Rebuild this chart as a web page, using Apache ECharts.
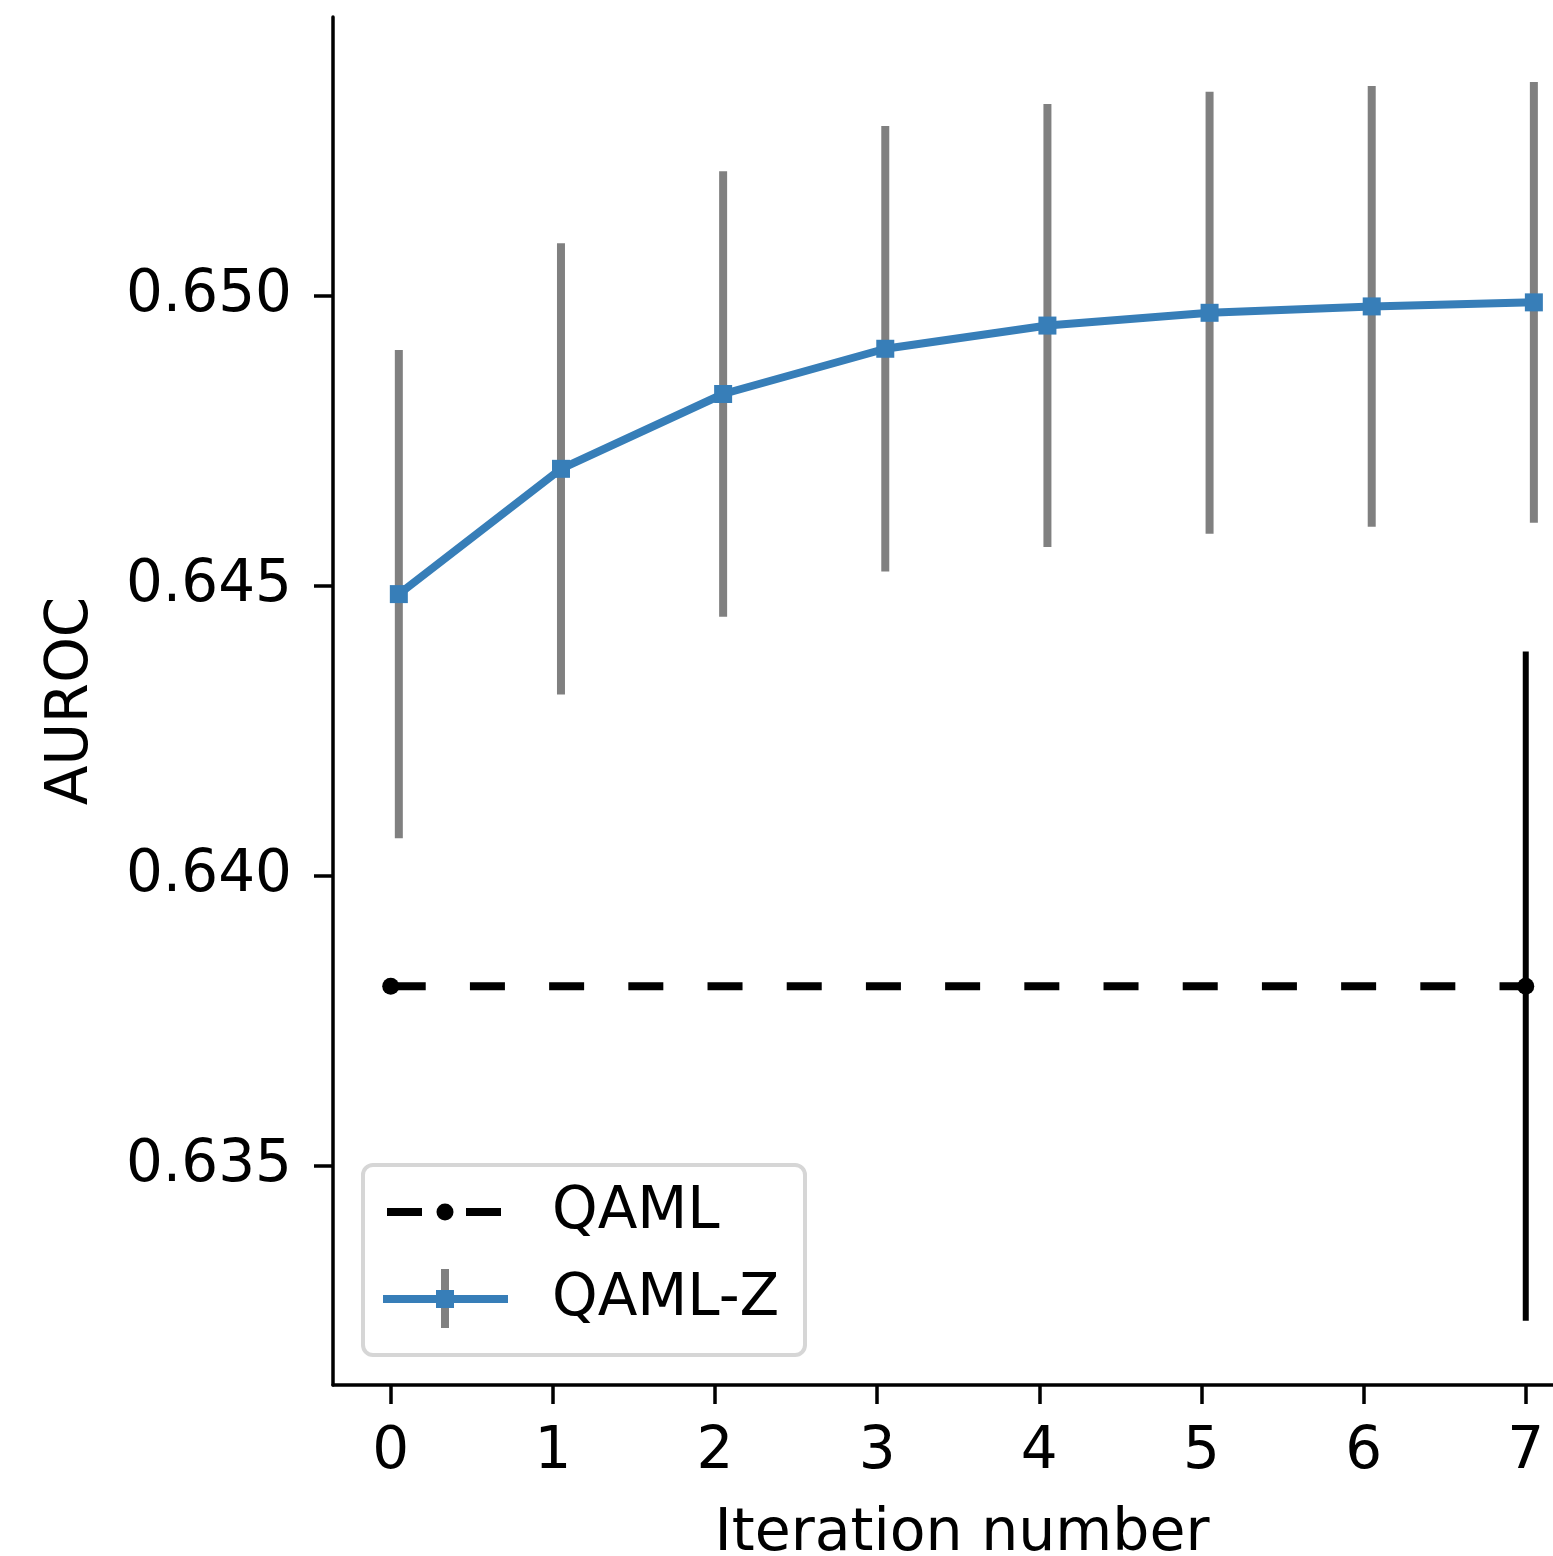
<!DOCTYPE html>
<html>
<head>
<meta charset="utf-8">
<title>AUROC by iteration</title>
<script src="https://cdn.jsdelivr.net/npm/echarts@6/dist/echarts.min.js"></script>
<style>
  html, body { margin: 0; padding: 0; background: #ffffff; overflow: hidden; }
  #chart { width: 1553px; height: 1556px; }
</style>
</head>
<body>
<div id="chart"></div>
<script>
// ---- data ----
const iterations = [0, 1, 2, 3, 4, 5, 6, 7];
const qamlZMean = [0.64486, 0.64702, 0.64831, 0.64909, 0.64949, 0.64971, 0.64982, 0.64989];
const qamlZErr  = [0.00421, 0.00389, 0.00384, 0.00384, 0.00382, 0.00381, 0.00380, 0.00380];
const qamlX     = [0, 7];
const qamlMean  = [0.63810, 0.63810];
const qamlErr   = [0, 0.00577];
const xTicks = [0, 1, 2, 3, 4, 5, 6, 7];
const yTicks = [0.635, 0.640, 0.645, 0.650];

// ---- styling ----
const FONT = '"DejaVu Sans", "Noto Sans", sans-serif';
const BLUE = '#377eb8';
const GREY = '#808080';
const DODGE = 0.05; // QAML-Z points are nudged right of the integer iteration

const zPoints = iterations.map((it, i) => [it + DODGE, qamlZMean[i]]);
const zBars = iterations.map((it, i) => [it + DODGE, qamlZMean[i] - qamlZErr[i], qamlZMean[i] + qamlZErr[i]]);
const qPoints = qamlX.map((x, i) => [x, qamlMean[i]]);
const qBars = qamlX.map((x, i) => [x, qamlMean[i] - qamlErr[i], qamlMean[i] + qamlErr[i]])
                   .filter((d, i) => qamlErr[i] > 0);

function errorBar(color, width) {
  return function (params, api) {
    const top = api.coord([api.value(0), api.value(2)]);
    const bot = api.coord([api.value(0), api.value(1)]);
    return {
      type: 'line',
      shape: { x1: top[0], y1: top[1], x2: bot[0], y2: bot[1] },
      style: { stroke: color, lineWidth: width, lineCap: 'butt' }
    };
  };
}

const chart = echarts.init(document.getElementById('chart'), null, { renderer: 'canvas' });

const LX = 445; // legend handle centre
const option = {
  animation: false,
  backgroundColor: '#ffffff',
  textStyle: { fontFamily: FONT },
  grid: { left: 333, top: 17, right: 0, bottom: 171, containLabel: false, outerBoundsMode: 'none' },
  xAxis: {
    type: 'value',
    min: -0.356,
    max: 7.168,
    name: 'Iteration number',
    nameLocation: 'middle',
    nameGap: 120,
    nameTextStyle: { fontFamily: FONT, fontSize: 58.5, color: '#000', padding: [0, 0, 0, 38] },
    axisLine: { show: true, onZero: false, lineStyle: { color: '#000', width: 3.5 } },
    axisTick: { show: true, length: 19, lineStyle: { color: '#000', width: 3.5 }, customValues: xTicks },
    axisLabel: { fontFamily: FONT, fontSize: 58, color: '#000', margin: 39, customValues: xTicks,
                 formatter: v => String(v) },
    splitLine: { show: false }
  },
  yAxis: {
    type: 'value',
    min: 0.631224,
    max: 0.65481,
    name: 'AUROC',
    nameLocation: 'middle',
    nameGap: 232,
    nameTextStyle: { fontFamily: FONT, fontSize: 58, color: '#000' },
    axisLine: { show: true, onZero: false, lineStyle: { color: '#000', width: 3.5 } },
    axisTick: { show: true, length: 19, lineStyle: { color: '#000', width: 3.5 }, customValues: yTicks },
    axisLabel: { fontFamily: FONT, fontSize: 58, color: '#000', margin: 41, customValues: yTicks,
                 formatter: v => v.toFixed(3) },
    splitLine: { show: false }
  },
  series: [
    {
      name: 'QAML-Z error',
      type: 'custom',
      renderItem: errorBar(GREY, 8),
      data: zBars,
      encode: { x: 0, y: [1, 2] },
      z: 1,
      silent: true
    },
    {
      name: 'QAML-Z',
      type: 'line',
      data: zPoints,
      symbol: 'rect',
      symbolSize: 18,
      showAllSymbol: true,
      itemStyle: { color: BLUE },
      lineStyle: { color: BLUE, width: 8 },
      z: 3
    },
    {
      name: 'QAML error',
      type: 'custom',
      renderItem: errorBar('#000000', 6),
      data: qBars,
      encode: { x: 0, y: [1, 2] },
      z: 2,
      silent: true
    },
    {
      name: 'QAML',
      type: 'line',
      data: qPoints,
      symbol: 'circle',
      symbolSize: 17,
      itemStyle: { color: '#000000' },
      lineStyle: { color: '#000000', width: 8, type: [35, 44.2], cap: 'butt' },
      z: 4
    }
  ],
  graphic: [
    {
      type: 'group',
      z: 100,
      children: [
        { type: 'rect', shape: { x: 363, y: 1165, width: 442, height: 190, r: 10 },
          style: { fill: '#ffffff', stroke: '#d6d6d6', lineWidth: 4 } },
        // QAML handle
        { type: 'line', shape: { x1: 387, y1: 1212, x2: 422, y2: 1212 },
          style: { stroke: '#000', lineWidth: 8, lineCap: 'butt' } },
        { type: 'line', shape: { x1: 466, y1: 1212, x2: 501, y2: 1212 },
          style: { stroke: '#000', lineWidth: 8, lineCap: 'butt' } },
        { type: 'circle', shape: { cx: LX, cy: 1212, r: 8.5 }, style: { fill: '#000' } },
        { type: 'text', x: 552, y: 1213,
          style: { text: 'QAML', fill: '#000', font: '58px ' + FONT, verticalAlign: 'middle', align: 'left' } },
        // QAML-Z handle
        { type: 'line', shape: { x1: LX, y1: 1269, x2: LX, y2: 1328 },
          style: { stroke: GREY, lineWidth: 8, lineCap: 'butt' } },
        { type: 'line', shape: { x1: 383, y1: 1299, x2: 508, y2: 1299 },
          style: { stroke: BLUE, lineWidth: 8, lineCap: 'butt' } },
        { type: 'rect', shape: { x: LX - 9, y: 1290, width: 18, height: 18 }, style: { fill: BLUE } },
        { type: 'text', x: 552, y: 1300,
          style: { text: 'QAML-Z', fill: '#000', font: '58px ' + FONT, verticalAlign: 'middle', align: 'left' } }
      ]
    }
  ]
};

chart.setOption(option);
</script>
</body>
</html>
